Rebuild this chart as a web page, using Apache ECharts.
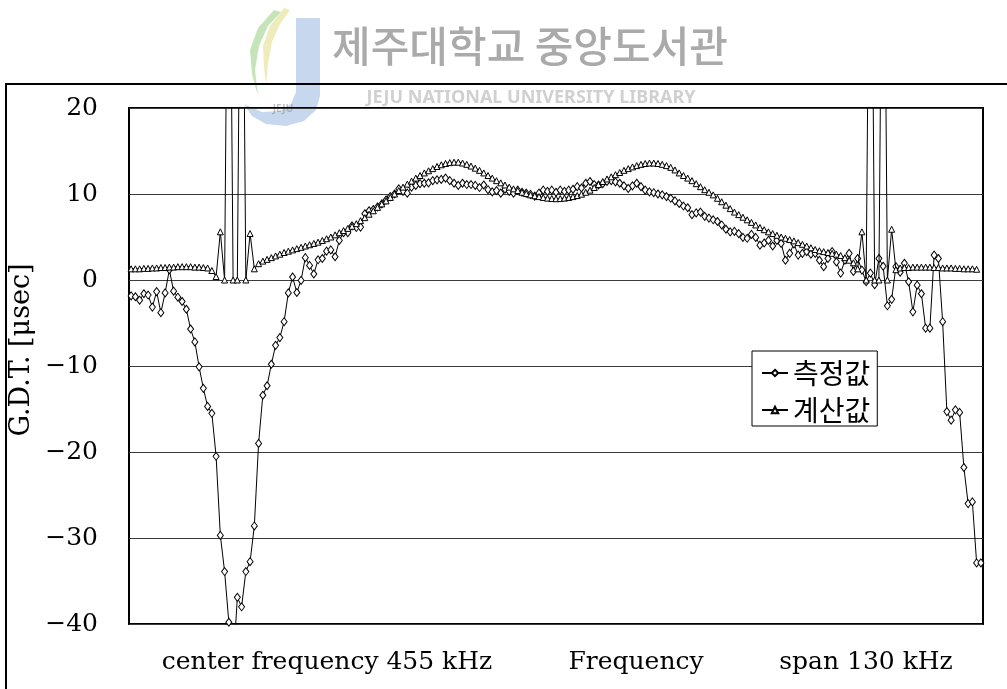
<!DOCTYPE html>
<html>
<head>
<meta charset="utf-8">
<script src="https://cdn.jsdelivr.net/npm/echarts@6/dist/echarts.min.js"></script>
<style>
  html, body { margin: 0; padding: 0; background: #fff; }
  #chart { width: 1007px; height: 689px; }
</style>
</head>
<body>
<div id="chart"></div>
<script>
// Sweep: 201 points across a 130 kHz span centred on 455 kHz
const centerKHz = 455;
const spanKHz = 130;
const pointCount = 201;
const frequencies = [];
for (let i = 0; i < pointCount; i++) {
  frequencies.push((centerKHz - spanKHz / 2 + i * spanKHz / (pointCount - 1)).toFixed(2));
}

// Measured group delay time [usec]
const measured = [
  -1.85, -1.95, -2.35, -1.6, -1.75, -3.15, -1.35, -3.8, -1.5, 1.2,
  -1.3, -2.0, -2.5, -3.4, -5.7, -7.2, -10.1, -12.6, -14.7, -15.5,
  -20.5, -29.7, -33.9, -39.8, -45, -36.9, -38.0, -33.9, -32.75, -28.6,
  -19.0, -13.4, -12.3, -9.8, -7.6, -6.7, -4.85, -1.5, 0.35, -1.45,
  -0.05, 2.6, 1.7, 0.7, 2.35, 2.5, 3.35, 3.5, 2.7, 4.6,
  5.5, 5.5, 6.3, 6.1, 6.15, 7.7, 8.05, 8.2, 8.5, 8.85,
  9.3, 9.7, 10.0, 10.6, 10.3, 10.1, 10.8, 11.0, 11.2, 11.25,
  11.3, 11.55, 11.65, 11.7, 11.85, 11.55, 11.25, 11.0, 11.25, 11.1,
  11.1, 11.0, 10.75, 11.05, 10.5, 10.25, 10.4, 10.1, 10.55, 10.3,
  10.1, 10.45, 10.2, 10.1, 9.95, 9.75, 10.1, 10.45, 10.3, 10.45,
  10.2, 10.45, 10.3, 10.45, 10.55, 10.85, 10.7, 11.25, 11.45, 11.1,
  11.05, 11.2, 11.45, 11.55, 11.4, 11.25, 10.95, 10.65, 10.95, 11.25,
  10.85, 10.45, 10.25, 10.15, 10.0, 9.9, 9.7, 9.5, 9.2, 8.9,
  8.6, 8.4, 7.6, 7.8, 7.9, 7.4, 7.2, 7.0, 6.8, 6.4,
  5.9, 5.6, 5.65, 5.4, 4.95, 4.85, 5.3, 4.95, 4.05, 4.3,
  4.6, 3.95, 4.6, 4.25, 2.3, 3.1, 4.2, 2.9, 3.1, 3.3,
  3.0, 3.1, 2.3, 1.55, 2.5, 3.3, 2.1, 0.8, 2.3, 3.1,
  1.0, 2.5, 1.15, -0.2, 0.8, -0.55, 2.5, 1.6, -3.0, -2.25,
  1.55, 0.9, 1.95, -0.2, -3.7, -0.6, -1.6, -5.6, -5.6, 2.9,
  2.5, -4.85, -15.3, -16.3, -15.1, -15.4, -21.8, -26.0, -25.8, -32.9,
  -32.9
];

// Calculated group delay time [usec]; the 60 entries run far off scale
const calculated = [
  1.3, 1.3, 1.3, 1.35, 1.35, 1.4, 1.4, 1.45, 1.45, 1.5,
  1.5, 1.55, 1.55, 1.55, 1.55, 1.5, 1.5, 1.45, 1.4, 1.1,
  0.4, 5.6, 0, 60, 0, 0, 60, 0, 5.4, 1.3,
  1.9, 2.2, 2.4, 2.6, 2.8, 3.0, 3.2, 3.35, 3.5, 3.65,
  3.8, 3.95, 4.1, 4.25, 4.4, 4.6, 4.8, 5.0, 5.25, 5.5,
  5.75, 6.0, 6.25, 6.55, 6.9, 7.25, 7.65, 8.05, 8.45, 8.85,
  9.2, 9.6, 10.0, 10.4, 10.8, 11.15, 11.5, 11.85, 12.15, 12.45,
  12.7, 12.95, 13.2, 13.4, 13.55, 13.65, 13.7, 13.7, 13.6, 13.45,
  13.25, 13.0, 12.75, 12.45, 12.15, 11.85, 11.55, 11.3, 11.05, 10.8,
  10.6, 10.4, 10.2, 10.05, 9.9, 9.8, 9.7, 9.6, 9.52, 9.48,
  9.45, 9.47, 9.52, 9.6, 9.7, 9.82, 9.98, 10.2, 10.45, 10.75,
  11.1, 11.45, 11.75, 12.0, 12.25, 12.5, 12.75, 12.95, 13.15, 13.3,
  13.45, 13.55, 13.6, 13.6, 13.55, 13.45, 13.3, 13.1, 12.8, 12.45,
  12.15, 11.85, 11.55, 11.2, 10.85, 10.5, 10.2, 9.9, 9.5, 9.1,
  8.7, 8.3, 7.9, 7.6, 7.3, 7.0, 6.7, 6.4, 6.1, 5.85,
  5.6, 5.4, 5.2, 5.0, 4.85, 4.7, 4.55, 4.35, 4.15, 3.95,
  3.75, 3.55, 3.4, 3.3, 3.2, 3.1, 3.0, 2.85, 2.6, 2.3,
  2.0, 1.3, 5.6, 0, 60, 0, 0, 60, 0, 5.9,
  1.2, 1.4, 1.45, 1.45, 1.5, 1.5, 1.5, 1.5, 1.5, 1.45,
  1.45, 1.4, 1.4, 1.4, 1.35, 1.35, 1.3, 1.3, 1.3, 1.25,
  '-'
];

const seriesNames = ['측정값', '계산값'];
const yMin = -40;
const yMax = 20;
const yStep = 10;
const yAxisTitle = 'G.D.T. [μsec]';
const bottomLabels = ['center frequency 455 kHz', 'Frequency', 'span 130 kHz'];
const libraryName = '제주대학교 중앙도서관';
const libraryNameEn = 'JEJU NATIONAL UNIVERSITY LIBRARY';

const serif = '"DejaVu Serif", "Liberation Serif", serif';
const hangul = '"Noto Sans CJK KR", "Noto Sans", sans-serif';

const chart = echarts.init(document.getElementById('chart'), null, { renderer: 'canvas' });

const bottomLabelX = [327, 636, 866];

const option = {
  backgroundColor: '#fff',
  animation: false,
  grid: {
    left: 129, right: 24, top: 108, bottom: 65,
    show: true, borderColor: '#000', borderWidth: 2, backgroundColor: 'transparent'
  },
  xAxis: {
    type: 'category',
    data: frequencies,
    boundaryGap: true,
    axisLine: { show: false },
    axisTick: { show: false },
    axisLabel: { show: false },
    splitLine: { show: false }
  },
  yAxis: {
    type: 'value',
    min: yMin, max: yMax, interval: yStep,
    axisLine: { show: false },
    axisTick: { show: false },
    axisLabel: {
      fontFamily: serif, fontSize: 25, color: '#000', margin: 31,
      formatter: v => (v < 0 ? '\u2212' + Math.abs(v) : String(v))
    },
    splitLine: { lineStyle: { color: '#3a3a3a', width: 1 } }
  },
  legend: {
    orient: 'vertical',
    left: 752, top: 351,
    data: seriesNames,
    backgroundColor: '#fff',
    borderColor: '#000', borderWidth: 1, borderRadius: 0,
    padding: [7, 7, 1, 9],
    itemGap: 7, itemWidth: 26, itemHeight: 8,
    selectedMode: false,
    textStyle: { fontFamily: hangul, fontSize: 28, color: '#000', lineHeight: 30 }
  },
  series: [
    {
      name: seriesNames[0], type: 'line', data: measured,
      symbol: 'diamond', symbolSize: [6, 8], showAllSymbol: true,
      clip: true, z: 3,
      itemStyle: { color: '#fff', borderColor: '#000', borderWidth: 1 },
      lineStyle: { color: '#000', width: 1 },
      emphasis: { disabled: true }
    },
    {
      name: seriesNames[1], type: 'line', data: calculated,
      symbol: 'triangle', symbolSize: [6, 6], showAllSymbol: true,
      clip: true, z: 4,
      itemStyle: { color: '#fff', borderColor: '#000', borderWidth: 1 },
      lineStyle: { color: '#000', width: 1 },
      emphasis: { disabled: true }
    }
  ],
  graphic: [
    // library watermark logo
    { type: 'polygon', z: -5, silent: true,
      shape: { points: [[296,18],[320,18],[320,96],[316,110],[304,121],[286,126],[266,124],[252,116],[244,104],[262,112],[280,111],[291,104],[296,92]] },
      style: { fill: 'rgba(120,160,215,0.42)' } },
    { type: 'polygon', z: -5, silent: true,
      shape: { points: [[274,10],[258,28],[250,50],[252,74],[258,96],[255,70],[259,46],[268,26],[281,12]] },
      style: { fill: 'rgba(120,190,90,0.42)' } },
    { type: 'polygon', z: -5, silent: true,
      shape: { points: [[284,8],[270,26],[263,46],[264,66],[266,86],[268,64],[272,42],[280,24],[290,10]] },
      style: { fill: 'rgba(215,210,90,0.42)' } },
    { type: 'text', z: -5, silent: true, x: 283, y: 109,
      style: { text: 'JEJU', font: 'bold 10px "Noto Sans"', fill: 'rgba(150,150,150,0.6)', textAlign: 'center', textVerticalAlign: 'middle' } },
    { type: 'text', z: -5, silent: true, x: 530, y: 46,
      style: { text: libraryName, font: '500 42px ' + hangul, fill: '#aaaaaa', textAlign: 'center', textVerticalAlign: 'middle' } },
    { type: 'text', z: -5, silent: true, x: 531, y: 98,
      style: { text: libraryNameEn, font: 'bold 18px "Noto Sans"', fill: '#d0d0d0', textAlign: 'center', textVerticalAlign: 'middle' } },
    // chart area frame
    { type: 'rect', silent: true,
      shape: { x: 6, y: 84, width: 1100, height: 700 },
      style: { fill: 'none', stroke: '#000', lineWidth: 2 } },
    // y axis title
    { type: 'text', silent: true, x: 22, y: 350, rotation: Math.PI / 2,
      style: { text: yAxisTitle, font: '27px ' + serif, fill: '#000', textAlign: 'center', textVerticalAlign: 'middle' } },
    // bottom captions
    ...bottomLabels.map((t, k) => ({
      type: 'text', silent: true, x: bottomLabelX[k], y: 662,
      style: { text: t, font: '25px ' + serif, fill: '#000', textAlign: 'center', textVerticalAlign: 'middle' }
    }))
  ]
};

chart.setOption(option);
</script>
</body>
</html>
